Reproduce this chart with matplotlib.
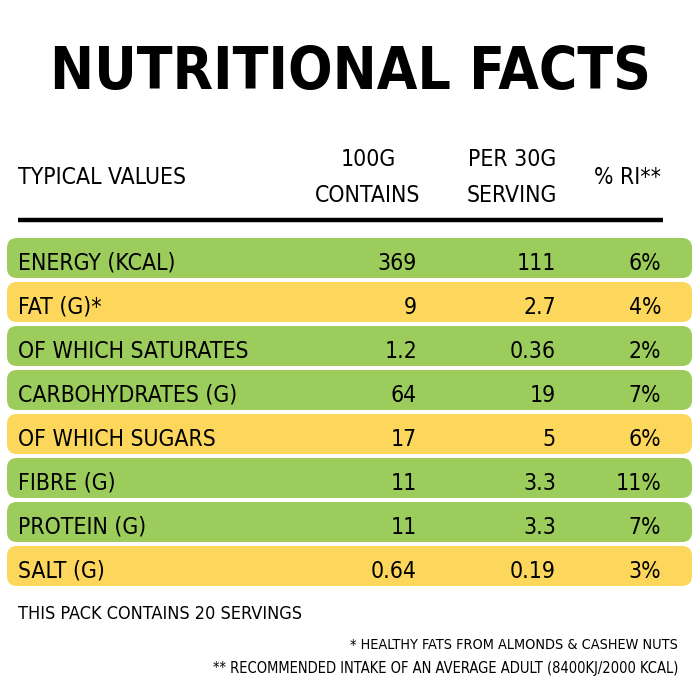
import matplotlib.pyplot as plt
from matplotlib.patches import FancyBboxPatch

nutrients = ['ENERGY (KCAL)', 'FAT (G)*', 'OF WHICH SATURATES', 'CARBOHYDRATES (G)',
             'OF WHICH SUGARS', 'FIBRE (G)', 'PROTEIN (G)', 'SALT (G)']
per_100g = ['369', '9', '1.2', '64', '17', '11', '11', '0.64']
per_30g = ['111', '2.7', '0.36', '19', '5', '3.3', '3.3', '0.19']
ri_pct = ['6%', '4%', '2%', '7%', '6%', '11%', '7%', '3%']
row_kind = ['g', 'y', 'g', 'g', 'y', 'g', 'g', 'y']

green = '#9CCC5C'
yellow = '#FCD75B'
tk = dict(family='DejaVu Sans', stretch='condensed')

fig = plt.figure(figsize=(7, 7), dpi=100)
ax = fig.add_axes([0, 0, 1, 1])
ax.set_xlim(0, 700)
ax.set_ylim(700, 0)
ax.axis('off')

ax.text(350, 73, 'NUTRITIONAL FACTS', ha='center', va='center',
        fontsize=42, weight='bold', **tk)

hs = 16.5
ax.text(18, 177, 'TYPICAL VALUES', ha='left', va='center', fontsize=hs, **tk)
ax.text(368, 160, '100G', ha='center', va='center', fontsize=hs, **tk)
ax.text(368, 195, 'CONTAINS', ha='center', va='center', fontsize=hs, **tk)
ax.text(512, 160, 'PER 30G', ha='center', va='center', fontsize=hs, **tk)
ax.text(512, 195, 'SERVING', ha='center', va='center', fontsize=hs, **tk)
ax.text(628, 177, '% RI**', ha='center', va='center', fontsize=hs, **tk)
ax.plot([18, 663], [220, 220], color='black', lw=3.2, solid_capstyle='butt')

for i, name in enumerate(nutrients):
    top = 238 + i * 44
    col = green if row_kind[i] == 'g' else yellow
    ax.add_patch(FancyBboxPatch((7 + 10, top + 10), 685 - 20, 40 - 20,
                                boxstyle='round,pad=10', fc=col, ec='none'))
    yc = top + 25
    ax.text(18, yc, name, ha='left', va='center', fontsize=hs, **tk)
    ax.text(417, yc, per_100g[i], ha='right', va='center', fontsize=hs, **tk)
    ax.text(556, yc, per_30g[i], ha='right', va='center', fontsize=hs, **tk)
    ax.text(661, yc, ri_pct[i], ha='right', va='center', fontsize=hs, **tk)

ax.text(18, 614, 'THIS PACK CONTAINS 20 SERVINGS', ha='left', va='center',
        fontsize=13, **tk)
ax.text(678, 645, '* HEALTHY FATS FROM ALMONDS & CASHEW NUTS', ha='right',
        va='center', fontsize=10.4, **tk)
ax.text(678, 668, '** RECOMMENDED INTAKE OF AN AVERAGE ADULT (8400KJ/2000 KCAL)',
        ha='right', va='center', fontsize=10.5, **tk)

fig.savefig('out.png', dpi=100)
